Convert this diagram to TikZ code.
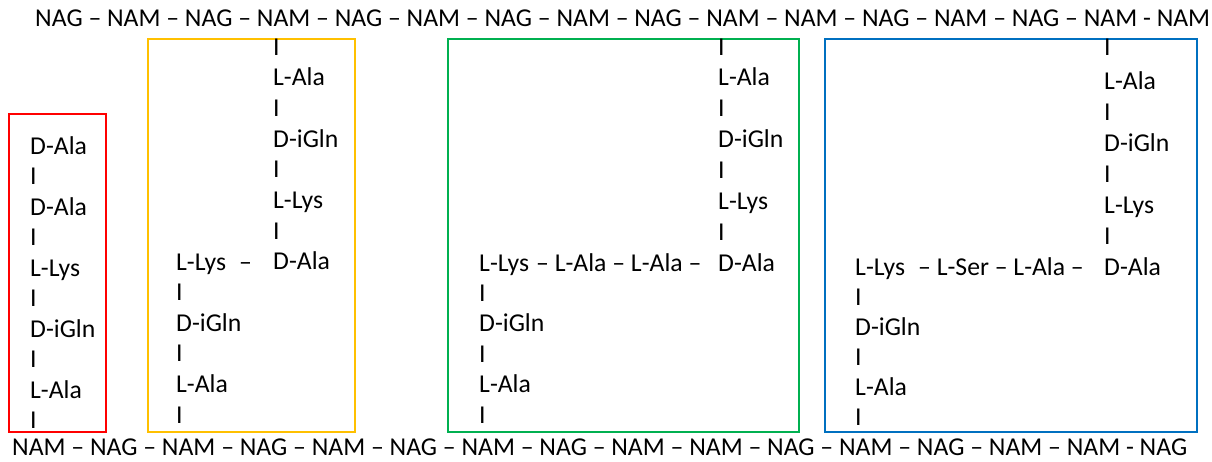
\documentclass[tikz,border=0pt]{standalone}
\usepackage{fontspec}
\setmainfont{Carlito}
\newcommand\chainfont{\fontsize{25.7}{30}\selectfont}
\definecolor{boxred}{RGB}{255,0,0}
\definecolor{boxgold}{RGB}{255,192,0}
\definecolor{boxgreen}{RGB}{0,176,80}
\definecolor{boxblue}{RGB}{0,112,192}
\tikzset{
  res/.style={anchor=base west, inner sep=0pt, font=\chainfont, text=black},
  frame/.style={line width=2pt},
}
\begin{document}
\begin{tikzpicture}[x=1pt,y=-1pt]
\useasboundingbox (0,0) rectangle (1212,461);

% glycan strands
\node[res] (top) at (35,26) {NAG – NAM – NAG – NAM – NAG – NAM – NAG – NAM – NAG – NAM – NAM – NAG – NAM – NAG – NAM - NAM};
\node[res] (bottom) at (12,455.5) {NAM – NAG – NAM – NAG – NAM – NAG – NAM – NAG – NAM – NAM – NAG – NAM – NAG – NAM – NAM - NAG};

% frames around the stem peptides
\draw[frame, boxred]   (9,114)  rectangle (106,432);
\draw[frame, boxgold]  (148,39) rectangle (355,432);
\draw[frame, boxgreen] (448,39) rectangle (799,432);
\draw[frame, boxblue]  (825,39) rectangle (1197,432);

% free stem peptide
\foreach \t [count=\i] in {D-Ala,I,D-Ala,I,L-Lys,I,D-iGln,I,L-Ala,I}
  \node[res] (red\i) at (30,{154+30.5*(\i-1)}) {\t};

% direct cross-link
\foreach \t [count=\i] in {I,L-Ala,I,D-iGln,I,L-Lys,I,D-Ala}
  \node[res] (goldup\i) at (273,{55+30.7*(\i-1)}) {\t};
\foreach \t [count=\i] in {L-Lys,I,D-iGln,I,L-Ala,I}
  \node[res] (golddn\i) at (176,{270+30.6*(\i-1)}) {\t};
\node[res] (goldbridge) at (239,270) {–};

% Ala-Ala bridge
\foreach \t [count=\i] in {I,L-Ala,I,D-iGln,I,L-Lys,I,D-Ala}
  \node[res] (greenup\i) at (718,{55+30.9*(\i-1)}) {\t};
\foreach \t [count=\i] in {L-Lys,I,D-iGln,I,L-Ala,I}
  \node[res] (greendn\i) at (479,{271+30.4*(\i-1)}) {\t};
\node[res] (greenbridge) at (536,271) {– L-Ala – L-Ala –};

% Ser-Ala bridge
\node[res] (blueup0) at (1104,55) {I};
\foreach \t [count=\i] in {L-Ala,I,D-iGln,I,L-Lys,I,D-Ala}
  \node[res] (blueup\i) at (1104,{89+31*(\i-1)}) {\t};
\foreach \t [count=\i] in {L-Lys,I,D-iGln,I,L-Ala,I}
  \node[res] (bluedn\i) at (855,{275+30*(\i-1)}) {\t};
\node[res] (bluebridge) at (918,275) {– L-Ser – L-Ala –};
\end{tikzpicture}
\end{document}
